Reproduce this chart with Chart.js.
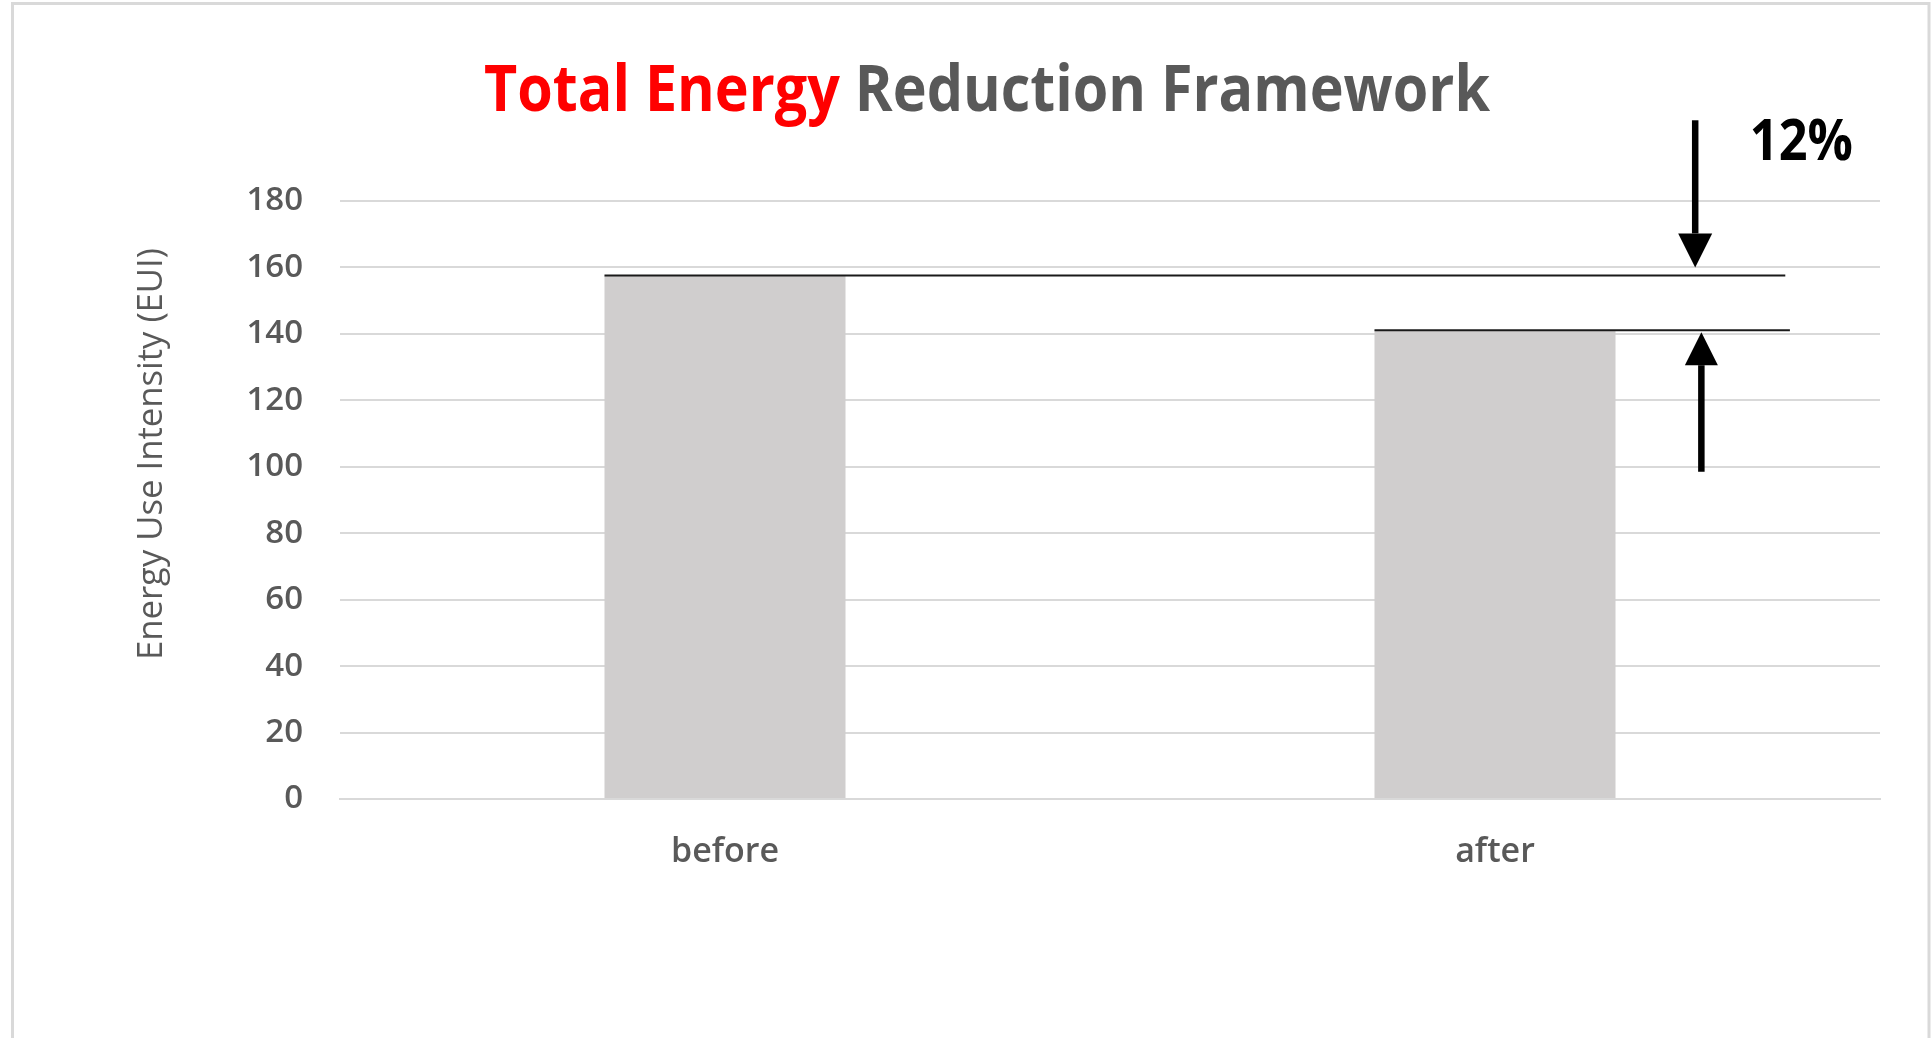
<!DOCTYPE html>
<html>
<head>
<meta charset="utf-8">
<script src="https://cdn.jsdelivr.net/npm/chart.js@4"></script>
<style>
  html, body { margin: 0; padding: 0; background: #fff; }
  #wrap { position: relative; width: 1931px; height: 1038px; }
</style>
</head>
<body>
<div id="wrap"><canvas id="euiChart"></canvas></div>
<script>
// --- Data ---
const categories = ['before', 'after'];
const euiValues = [157.6, 141.1];
const yMin = 0;
const yMax = 180;
const yStep = 20;

// --- Texts ---
const titleRed = 'Total Energy ';
const titleGray = 'Reduction Framework';
const yTitle = 'Energy Use Intensity (EUI)';
const reductionLabel = '12%';

// annotation anchors in data units (category index, EUI value)
const downArrow = { x: 1.26, from: 204.3, to: 157.6 };
const upArrow = { x: 1.268, from: 98.5, to: 141.1 };
const lineEnds = [1.377, 1.383];
const labelAnchor = { x: 1.331, y: 192.2 };

const FONT = '"Open Sans", "Liberation Sans", sans-serif';
const GRAY = '#595959';

// draw text squeezed to a given width (Calibri is narrower than what we have)
function fitText(ctx, parts, x, y, width) {
    let total = 0;
    parts.forEach(p => { total += ctx.measureText(p.text).width; });
    const sx = width / total;
    ctx.save();
    ctx.translate(x, y);
    ctx.scale(sx, 1);
    let cx = 0;
    parts.forEach(p => {
        ctx.fillStyle = p.color;
        ctx.fillText(p.text, cx, 0);
        cx += ctx.measureText(p.text).width;
    });
    ctx.restore();
}

function drawArrow(ctx, x, yFrom, yTo, headLen, headW, shaftW) {
    const dir = yTo > yFrom ? 1 : -1;
    const headBase = yTo - dir * headLen;
    ctx.save();
    ctx.strokeStyle = '#000';
    ctx.fillStyle = '#000';
    ctx.lineWidth = shaftW;
    ctx.beginPath();
    ctx.moveTo(x, yFrom);
    ctx.lineTo(x, headBase);
    ctx.stroke();
    ctx.beginPath();
    ctx.moveTo(x - headW / 2, headBase);
    ctx.lineTo(x + headW / 2, headBase);
    ctx.lineTo(x, yTo);
    ctx.closePath();
    ctx.fill();
    ctx.restore();
}

const frameAndText = {
    id: 'frameAndText',
    beforeDraw(chart) {
        const ctx = chart.ctx;
        ctx.save();
        ctx.fillStyle = '#fff';
        ctx.fillRect(0, 0, chart.width, chart.height);
        // outer chart border (bottom edge is cut off in the picture)
        ctx.strokeStyle = '#d9d9d9';
        ctx.lineWidth = 3;
        ctx.beginPath();
        ctx.moveTo(12.5, chart.height + 5);
        ctx.lineTo(12.5, 3.5);
        ctx.lineTo(1929, 3.5);
        ctx.lineTo(1929, chart.height + 5);
        ctx.stroke();

        // title
        ctx.font = 'bold 64px ' + FONT;
        ctx.textBaseline = 'alphabetic';
        ctx.textAlign = 'left';
        fitText(ctx, [
            { text: titleRed, color: '#ff0000' },
            { text: titleGray, color: GRAY }
        ], 484, 110.7, 1006);

        // y axis title
        ctx.font = '35px ' + FONT;
        ctx.translate(162, 454);
        ctx.rotate(-Math.PI / 2);
        fitText(ctx, [{ text: yTitle, color: GRAY }], -206, 0, 412);
        ctx.restore();
    },
    afterDatasetsDraw(chart) {
        const ctx = chart.ctx;
        const xs = chart.scales.x;
        const ys = chart.scales.y;
        const meta = chart.getDatasetMeta(0);

        // level lines from each bar top out to the arrows
        ctx.save();
        ctx.strokeStyle = '#1a1a1a';
        ctx.lineWidth = 2;
        meta.data.forEach((bar, i) => {
            const y = ys.getPixelForValue(euiValues[i]);
            ctx.beginPath();
            ctx.moveTo(bar.x - bar.width / 2, y);
            ctx.lineTo(xs.getPixelForValue(lineEnds[i]), y);
            ctx.stroke();
        });
        ctx.restore();

        drawArrow(ctx, xs.getPixelForValue(downArrow.x), ys.getPixelForValue(downArrow.from),
            ys.getPixelForValue(downArrow.to) - 8, 34, 34, 6.5);
        drawArrow(ctx, xs.getPixelForValue(upArrow.x), ys.getPixelForValue(upArrow.from),
            ys.getPixelForValue(upArrow.to) + 2, 33, 33, 6.5);

        ctx.save();
        ctx.font = 'bold 58px ' + FONT;
        ctx.textBaseline = 'alphabetic';
        fitText(ctx, [{ text: reductionLabel, color: '#000' }],
            xs.getPixelForValue(labelAnchor.x), ys.getPixelForValue(labelAnchor.y), 103);
        ctx.restore();
    }
};

const ctx = document.getElementById('euiChart').getContext('2d');

new Chart(ctx, {
    type: 'bar',
    data: {
        labels: categories,
        datasets: [{
            label: 'EUI',
            data: euiValues,
            backgroundColor: '#d0cece',
            borderWidth: 0,
            categoryPercentage: 1,
            barPercentage: 0.313
        }]
    },
    options: {
        responsive: true,
        maintainAspectRatio: false,
        animation: false,
        layout: { padding: { top: 201, right: 51, bottom: 0, left: 0 } },
        plugins: {
            legend: { display: false },
            title: { display: false },
            tooltip: { enabled: false }
        },
        scales: {
            x: {
                grid: { display: false, drawTicks: false },
                border: { display: true, color: '#d9d9d9', width: 2 },
                ticks: {
                    color: GRAY,
                    padding: 33,
                    font: { family: FONT, size: 34, weight: '600' }
                },
                afterFit(scale) { scale.height = 239; }
            },
            y: {
                min: yMin,
                max: yMax,
                grid: { color: '#d9d9d9', lineWidth: 2, drawTicks: false },
                border: { display: false },
                ticks: {
                    stepSize: yStep,
                    color: GRAY,
                    padding: 37,
                    font: { family: FONT, size: 33, weight: '600' }
                },
                afterFit(scale) { scale.width = 340; }
            }
        }
    },
    plugins: [frameAndText]
});
</script>
</body>
</html>
